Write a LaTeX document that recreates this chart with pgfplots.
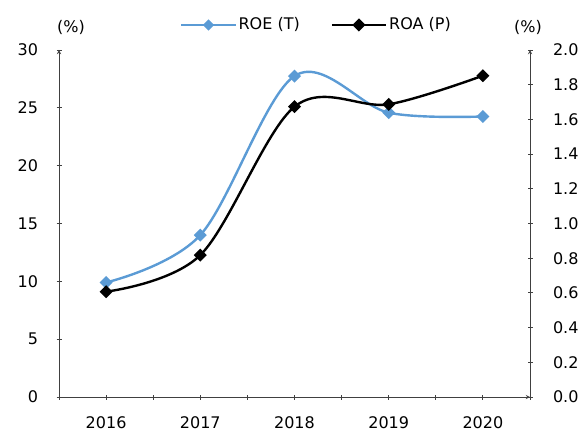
\documentclass[border=0pt]{standalone}
\usepackage{pgfplots}
\pgfplotsset{compat=1.18}
\usepackage{fontspec}
\setmainfont{DejaVu Sans}
\usetikzlibrary{calc}
\definecolor{roeblue}{HTML}{5B9BD5}
\definecolor{axgray}{HTML}{404040}
\begin{document}
\fontsize{16}{19}\selectfont
\begin{tikzpicture}
\pgfplotsset{
  base/.style={
    scale only axis, width=471pt, height=347pt,
    xmin=-0.5, xmax=4.5,
    /pgf/number format/assume math mode=true,
    tick label style={font=\fontsize{16}{19}\selectfont},
    axis line style={-, axgray, line width=0.9pt},
    tick style={axgray, line width=0.9pt},
    tick align=inside,
    major tick length=5pt, minor tick length=5pt,
  },
  lstyle/.style={line width=2.4pt, smooth, tension=0.55, mark=square*, mark size=3.4pt, mark options={solid, rotate=45}},
}
\begin{axis}[base, name=ax1,
  axis x line=bottom, axis y line=left,
  ymin=0, ymax=30, ytick={0,5,...,30},
  xtick={0,1,2,3,4}, xticklabels={2016,2017,2018,2019,2020},
  minor xtick={-0.5,0.5,1.5,2.5,3.5,4.5},
  xticklabel style={yshift=-12pt},
  yticklabel style={xshift=-13pt},
]
\addplot[lstyle, color=roeblue] coordinates {(0,9.9) (1,14.0) (2,27.75) (3,24.58) (4,24.25)};
\end{axis}
\begin{axis}[base,
  axis x line=none, axis y line=right,
  ymin=0, ymax=2, ytick={0,0.2,...,2.01},
  yticklabel style={/pgf/number format/.cd, fixed, fixed zerofill, precision=1, /tikz/.cd, xshift=15pt},
  legend style={at={(0.5,1)}, anchor=center, xshift=22pt, yshift=25pt, draw=none, fill=none,
    font=\fontsize{16}{19}\selectfont, legend columns=2,
    /tikz/every odd column/.append style={column sep=0pt},
    /tikz/every even column/.append style={column sep=29pt}},
  legend image code/.code={\draw[#1, mark repeat=2, mark phase=2] plot coordinates {(0pt,0pt) (27pt,0pt) (54pt,0pt)};},
]
\addlegendimage{lstyle, color=roeblue, mark size=2.8pt}
\addlegendentry{ROE (T)}
\addplot[lstyle, color=black] coordinates {(0,0.607) (1,0.818) (2,1.673) (3,1.687) (4,1.852)};
\addlegendentry{ROA (P)}
\end{axis}
\node[font=\fontsize{16}{19}\selectfont] at ($(ax1.north west)+(12pt,23pt)$) {(\%)};
\node[font=\fontsize{16}{19}\selectfont] at ($(ax1.north east)+(-2pt,23pt)$) {(\%)};
\pgfresetboundingbox
\path[use as bounding box] ($(ax1.south west)+(-59pt,-41pt)$) rectangle ($(ax1.north east)+(48pt,50pt)$);
\end{tikzpicture}
\end{document}
